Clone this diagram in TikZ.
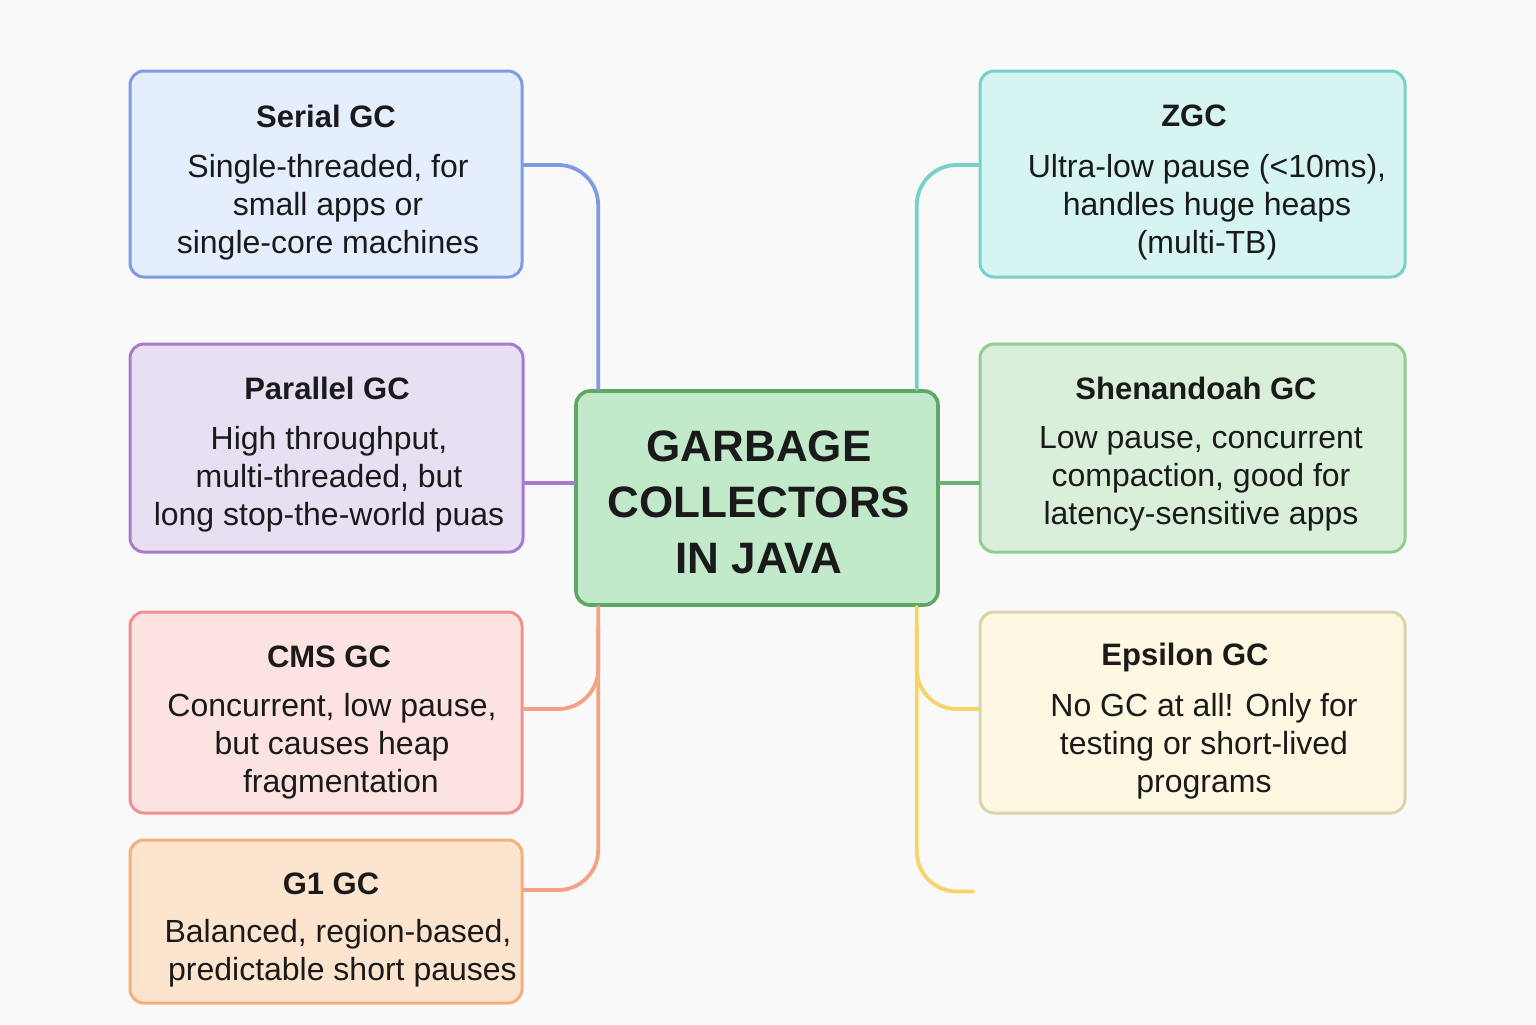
\documentclass[tikz,border=0pt]{standalone}
\usepackage{fontspec}
\setmainfont{Liberation Sans}
\usetikzlibrary{calc}

\definecolor{bg}{HTML}{F9F9F9}
\definecolor{ink}{HTML}{1A1A1A}
\definecolor{serialfill}{HTML}{E4EEFD}\definecolor{serialline}{HTML}{7E9CE4}
\definecolor{parfill}{HTML}{E9DFF3}\definecolor{parline}{HTML}{A57BCB}
\definecolor{cmsfill}{HTML}{FDE2E2}\definecolor{cmsline}{HTML}{EF9090}
\definecolor{gonefill}{HTML}{FDE4CF}\definecolor{goneline}{HTML}{F3B07A}
\definecolor{hubfill}{HTML}{C2E9C9}\definecolor{hubline}{HTML}{5DA867}
\definecolor{zgcfill}{HTML}{D6F4F1}\definecolor{zgcline}{HTML}{76D1C8}
\definecolor{shenfill}{HTML}{D9EFD9}\definecolor{shenline}{HTML}{92CC92}
\definecolor{epsfill}{HTML}{FEF7E1}\definecolor{epsline}{HTML}{D9D4AA}
\definecolor{orangeconn}{HTML}{F4A283}
\definecolor{greenconn}{HTML}{6AB177}
\definecolor{yellowconn}{HTML}{F6D46A}

\tikzset{
  gcbox/.style={draw, line width=1.5pt, rounded corners=7pt, inner sep=0pt},
  gctitle/.style={text=ink, font=\fontsize{15.5}{19}\selectfont\bfseries},
  gcbody/.style={text=ink, align=center, font=\fontsize{16}{19}\selectfont},
  conn/.style={line width=1.9pt, line cap=round},
  elbow/.style={conn, rounded corners=20pt},
}

\begin{document}
\begin{tikzpicture}[x=0.5pt, y=-0.5pt]
\fill[bg] (0,0) rectangle (1536,1024);
\useasboundingbox (0,0) rectangle (1536,1024);

% central node
\node[gcbox, fill=hubfill, draw=hubline, line width=1.8pt, minimum width=181pt, minimum height=107pt] (hub) at (757,498) {};
\node[text=ink, align=center, font=\fontsize{22}{28}\selectfont\bfseries] (hubtext) at (759,502) {GARBAGE\\COLLECTORS\\IN JAVA};

% left column
\node[gcbox, fill=serialfill, draw=serialline, minimum width=196pt, minimum height=103pt] (serial) at (326,174) {};
\node[gctitle] (serialtitle) at (326,116) {Serial GC};
\node[gcbody] (serialbody) at (328,207) {Single-threaded, for\\ small apps or\\single-core machines};

\node[gcbox, fill=parfill, draw=parline, minimum width=196.5pt, minimum height=104pt] (par) at (326.5,448) {};
\node[gctitle] (partitle) at (327,388) {Parallel GC};
\node[gcbody] (parbody) at (329,479) {High throughput,\\multi-threaded, but\\long stop-the-world puas};

\node[gcbox, fill=cmsfill, draw=cmsline, minimum width=196pt, minimum height=100.5pt] (cms) at (326,712.5) {};
\node[gctitle] (cmstitle) at (329,657) {CMS GC};
\node[gcbody] (cmsbody) at (332,746) {Concurrent, low pause,\\but causes heap\\ \ \ fragmentation};

\node[gcbox, fill=gonefill, draw=goneline, minimum width=196pt, minimum height=81.5pt] (g1) at (326,921.5) {};
\node[gctitle] (g1title) at (331,884) {G1 GC};
\node[gcbody] (g1body) at (338,953) {Balanced, region-based,\\ \ predictable short pauses};

% right column
\node[gcbox, fill=zgcfill, draw=zgcline, minimum width=212.5pt, minimum height=103pt] (zgc) at (1192.5,174) {};
\node[gctitle] (zgctitle) at (1194,116) {ZGC};
\node[gcbody] (zgcbody) at (1207,207) {Ultra-low pause (<10ms),\\handles huge heaps\\(multi-TB)};

\node[gcbox, fill=shenfill, draw=shenline, minimum width=212.5pt, minimum height=104pt] (shen) at (1192.5,448) {};
\node[gctitle] (shentitle) at (1196,388) {Shenandoah GC};
\node[gcbody] (shenbody) at (1201,479) {Low pause, concurrent\\compaction, good for\\latency-sensitive apps};

\node[gcbox, fill=epsfill, draw=epsline, minimum width=212.5pt, minimum height=100.5pt] (eps) at (1192.5,712.5) {};
\node[gctitle] (epstitle) at (1185,657) {Epsilon GC};
\node[gcbody] (epsbody) at (1204,746) {No GC at all! Only for\\testing or short-lived\\programs};

% connectors, left side
\draw[elbow, serialline] ($(serial.east)+(0,-9)$) -| ($(hub.north west)+(24,0)$);
\draw[conn, parline] ($(hub.west)+(0,-15)$) coordinate (pj) -- (pj -| par.east);
\draw[elbow, orangeconn] ($(hub.south west)+(24,0)$) |- ($(g1.east)+(0,-31.5)$);
\draw[elbow, orangeconn] ($(hub.south west)+(24,20)$) |- ($(cms.east)+(0,-3.5)$);

% connectors, right side
\draw[elbow, zgcline] ($(hub.north east)+(-23,0)$) |- ($(zgc.west)+(0,-9)$);
\draw[conn, greenconn] ($(hub.east)+(0,-15)$) coordinate (sj) -- (sj -| shen.west);
\draw[elbow, yellowconn] ($(hub.south east)+(-23,20)$) |- ($(eps.west)+(0,-3.5)$);
\coordinate (yend) at ($(eps.south west)+(-5,77)$);
\draw[elbow, yellowconn] ($(hub.south east)+(-23,0)$) |- (yend);
\end{tikzpicture}
\end{document}
